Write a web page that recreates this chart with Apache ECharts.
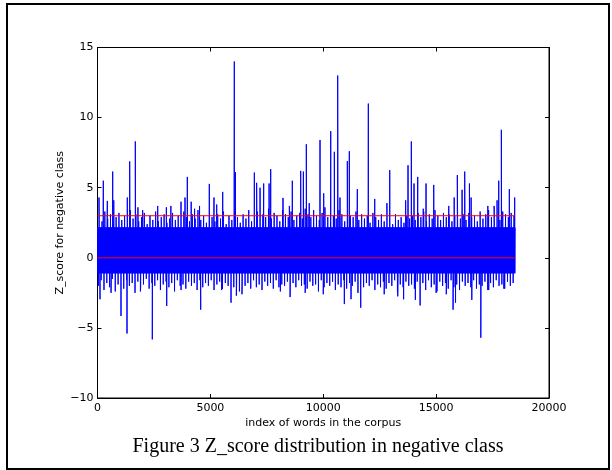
<!DOCTYPE html>
<html>
<head>
<meta charset="utf-8">
<script src="https://cdn.jsdelivr.net/npm/echarts@6/dist/echarts.min.js"></script>
<style>
  html, body { margin: 0; padding: 0; background: #fff; }
  #chart { width: 612px; height: 470px; }
</style>
</head>
<body>
<div id="chart"></div>
<script>
// number of words in the corpus (length of the plotted series)
const wordCount = 18500

// tall peaks: [word index, z score]
const upperSpikes = [
  [66, 4.3], [258, 5.5], [435, 4.06], [673, 6.15], [720, 4.1], [1320, 4.3], [1426, 6.87],
  [1675, 8.3], [1790, 3.6], [2000, 3.4], [2666, 3.7], [3050, 3.6], [3250, 3.7], [3700, 4.0],
  [3876, 4.3], [3979, 5.77], [4150, 4.0], [4300, 3.5], [4520, 3.7], [4953, 5.27], [5161, 4.3],
  [5280, 3.8], [5546, 4.7], [6061, 14.0], [6110, 6.1], [6948, 6.08], [7050, 5.35], [7200, 5.0],
  [7361, 5.3], [7600, 5.3], [7672, 6.32], [8217, 4.27], [8500, 3.7], [8630, 5.5], [9000, 6.2],
  [9120, 6.15], [9250, 8.1], [9380, 3.9], [9857, 8.4], [10020, 4.6], [10331, 9.03], [10491, 7.56],
  [10640, 13.0], [10740, 4.3], [11067, 6.9], [11155, 7.6], [11510, 4.9], [11997, 11.0],
  [12280, 4.2], [12820, 3.9], [12945, 6.25], [13650, 4.1], [13755, 6.6], [13902, 8.3],
  [14021, 5.3], [14185, 5.77], [14430, 3.5], [14553, 5.3], [14894, 5.2], [15560, 3.7],
  [15800, 4.3], [15939, 5.9], [16150, 4.85], [16266, 6.15], [16475, 5.3], [16550, 4.3],
  [17290, 3.7], [17570, 3.7], [17700, 4.1], [17773, 5.5], [17889, 9.13], [18243, 4.9], [18480, 4.3]
]

// deep dips
const lowerSpikes = [
  [111, -2.96], [600, -2.5], [1041, -4.15], [1307, -5.4], [1900, -2.4], [2428, -5.82],
  [3066, -3.44], [3700, -2.3], [4572, -3.7], [5500, -2.3], [5915, -3.2], [6150, -2.7],
  [6400, -2.6], [8100, -2.4], [8530, -2.8], [9200, -2.5], [10000, -2.6], [10935, -3.3],
  [11230, -2.95], [11660, -3.56], [12700, -2.6], [13300, -2.75], [13560, -2.96], [14080, -3.0],
  [14290, -3.4], [15000, -2.5], [15450, -2.6], [15750, -3.7], [15860, -3.2], [16580, -3.0],
  [16980, -5.7], [17330, -2.3], [18000, -2.2]
]

// dense band: solid blue between these two levels
const bandTop = 2.16
const bandBottom = -1.1

// small fuzz above / below the band, one value per 125 words
const binSize = 125
const upperEdge = [
  3.0, 2.6, 3.3, 2.8, 3.1, 2.4, 2.9, 3.2, 2.7, 3.0, 2.5, 3.4, 2.8, 3.1, 2.6, 2.9, 3.2, 2.4, 3.0, 2.7, 3.3, 2.6, 2.9, 3.1, 2.5, 2.8, 3.2, 2.7, 3.0, 2.4, 3.3, 2.9, 2.6, 3.1, 2.8, 3.4, 2.7,
  3.0, 2.5, 3.2, 2.9, 2.6, 3.1, 2.8, 3.3, 2.4, 3.0, 2.7, 3.2, 2.9, 2.5, 3.1, 2.8, 3.4, 2.6, 3.0, 3.3, 2.7, 3.1, 2.9, 3.5, 2.8, 3.2, 3.0, 2.6, 3.4, 3.1, 2.9, 3.3, 2.7, 3.0, 3.2, 2.8, 3.5,
  3.1, 2.9, 3.4, 3.0, 2.7, 3.2, 3.6, 2.9, 3.3, 3.0, 2.8, 3.4, 3.1, 2.6, 3.2, 3.0, 2.9, 3.3, 2.7, 3.1, 2.8, 3.0, 2.5, 3.2, 2.9, 2.7, 3.1, 2.6, 3.0, 2.8, 2.4, 3.1, 2.7, 2.9, 2.5, 3.0, 2.8,
  3.0, 2.7, 3.2, 2.9, 3.3, 2.6, 3.1, 2.8, 3.4, 3.0, 2.7, 3.2, 2.9, 3.1, 2.6, 3.0, 3.3, 2.8, 3.1, 2.7, 3.2, 2.9, 3.0, 2.6, 3.3, 2.8, 3.1, 3.4, 2.9, 3.2, 3.0, 2.7, 3.3, 3.1, 2.9, 3.2, 3.0
]
const lowerEdge = [
  -2.0, -1.6, -2.3, -1.8, -2.1, -1.5, -2.4, -1.9, -1.7, -2.2, -1.6, -2.0, -1.8, -2.5, -1.7, -2.1, -1.9, -1.5, -2.2, -1.8, -2.0, -1.6, -2.3, -1.9, -1.7, -2.1, -1.8, -2.4, -1.6, -2.0, -1.9, -2.2, -1.7, -2.0, -1.8, -2.3, -1.6,
  -2.1, -1.8, -2.0, -1.6, -2.3, -1.9, -1.7, -2.2, -1.8, -2.0, -1.5, -2.1, -1.9, -2.4, -1.7, -2.0, -1.8, -2.2, -1.6, -2.1, -1.9, -2.3, -1.7, -2.0, -1.8, -2.2, -1.6, -2.1, -1.9, -2.0, -1.7, -2.3, -1.8, -2.1, -1.6, -2.0, -1.9,
  -2.2, -1.7, -2.0, -1.9, -2.4, -1.6, -2.1, -1.8, -2.0, -1.7, -2.3, -1.9, -2.1, -1.6, -2.2, -1.8, -2.0, -1.7, -2.5, -1.9, -2.1, -1.8, -2.0, -1.6, -2.3, -1.9, -2.1, -1.7, -2.2, -1.8, -2.0, -1.6, -2.4, -1.9, -2.1, -1.7, -2.0,
  -1.9, -2.2, -1.7, -2.0, -1.8, -2.3, -1.6, -2.1, -1.9, -2.4, -1.7, -2.0, -1.8, -2.2, -1.6, -2.1, -1.9, -2.3, -1.7, -2.0, -1.8, -2.1, -1.6, -2.2, -1.9, -2.0, -1.7, -2.3, -1.8, -2.1, -1.6, -2.0, -1.9, -2.2, -1.7, -2.0, -1.8
]

// red threshold lines
const thresholds = [0, 3]

const xTicks = { min: 0, max: 20000, interval: 5000 }
const yTicks = { min: -10, max: 15, interval: 5 }

// build the zig-zag trace through the band, the fuzz and the peaks
const step = 12.5
const perBin = binSize / step
const trace = []
for (let i = 0; i * step <= wordCount; i++) {
  const x = i * step
  const bin = Math.min(Math.floor(x / binSize), upperEdge.length - 1)
  const k = i % perBin
  let y = k % 2 === 0 ? bandTop : bandBottom
  if (k === 3) y = lowerEdge[bin]
  if (k === 6) y = upperEdge[bin]
  trace.push([x, y])
}
upperSpikes.concat(lowerSpikes).forEach(p => trace.push(p))
trace.sort((a, b) => a[0] - b[0])

const minus = v => String(v).replace('-', '\u2212')
const tickFont = { fontFamily: 'DejaVu Sans', fontSize: 11, color: '#000' }

const chart = echarts.init(document.getElementById('chart'))

const option = {
  animation: false,
  backgroundColor: '#fff',
  grid: {
    left: 97.5,
    right: 63,
    top: 47.5,
    bottom: 72,
    show: true,
    borderColor: '#000',
    borderWidth: 1,
    backgroundColor: 'transparent'
  },
  xAxis: [
    {
      type: 'value',
      position: 'bottom',
      ...xTicks,
      name: 'index of words in the corpus',
      nameLocation: 'middle',
      nameGap: 20,
      nameMoveOverlap: false,
      nameTextStyle: { fontFamily: 'DejaVu Sans', fontSize: 11, color: '#000' },
      axisLine: { show: true, onZero: false, lineStyle: { color: '#000', width: 1 } },
      axisTick: { show: true, inside: true, length: 4, lineStyle: { color: '#000' } },
      axisLabel: { ...tickFont, margin: 5, formatter: v => String(v) },
      splitLine: { show: false }
    },
    {
      type: 'value',
      position: 'top',
      ...xTicks,
      axisLine: { show: true, onZero: false, lineStyle: { color: '#000', width: 1 } },
      axisTick: { show: true, inside: true, length: 4, lineStyle: { color: '#000' } },
      axisLabel: { show: false },
      splitLine: { show: false }
    }
  ],
  yAxis: [
    {
      type: 'value',
      position: 'left',
      ...yTicks,
      name: 'Z_score for negative class',
      nameLocation: 'middle',
      nameGap: 32,
      nameMoveOverlap: false,
      nameTextStyle: { fontFamily: 'DejaVu Sans', fontSize: 11, color: '#000' },
      axisLine: { show: true, onZero: false, lineStyle: { color: '#000', width: 1 } },
      axisTick: { show: true, inside: true, length: 4, lineStyle: { color: '#000' } },
      axisLabel: { ...tickFont, margin: 4, formatter: minus },
      splitLine: { show: false }
    },
    {
      type: 'value',
      position: 'right',
      ...yTicks,
      axisLine: { show: true, onZero: false, lineStyle: { color: '#000', width: 1 } },
      axisTick: { show: true, inside: true, length: 4, lineStyle: { color: '#000' } },
      axisLabel: { show: false },
      splitLine: { show: false }
    }
  ],
  series: [
    {
      type: 'line',
      data: trace,
      showSymbol: false,
      symbol: 'none',
      sampling: null,
      lineStyle: { color: '#0000ff', width: 1 },
      z: 2
    },
    ...thresholds.map(t => ({
      type: 'line',
      data: [[0, t], [wordCount, t]],
      showSymbol: false,
      symbol: 'none',
      lineStyle: { color: '#ff0000', width: 1 },
      z: 3
    }))
  ],
  graphic: [
    {
      type: 'rect',
      shape: { x: 7, y: 4, width: 602, height: 465 },
      style: { fill: 'none', stroke: '#000', lineWidth: 2 },
      silent: true
    },
    {
      type: 'text',
      x: 318,
      y: 447,
      style: {
        text: 'Figure 3 Z_score distribution in negative class',
        font: '20px "Liberation Serif"',
        fill: '#000',
        textAlign: 'center',
        textVerticalAlign: 'middle'
      }
    }
  ]
}

chart.setOption(option)
</script>
</body>
</html>
